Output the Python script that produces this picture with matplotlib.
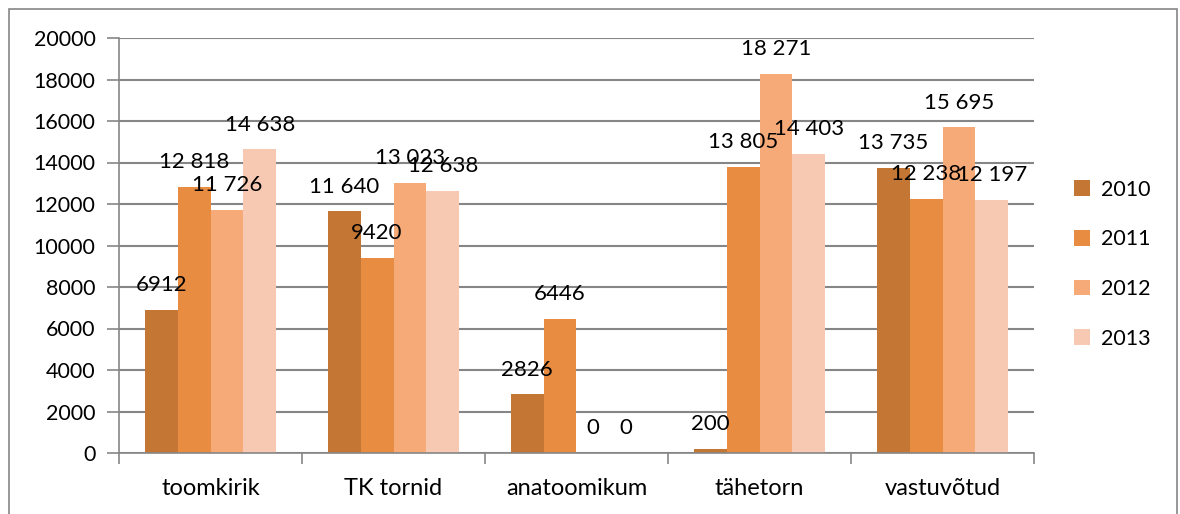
import matplotlib
matplotlib.use('Agg')
import matplotlib.pyplot as plt
from matplotlib.patches import Rectangle
import numpy as np

plt.rcParams['font.family'] = ['Lato', 'DejaVu Sans']

categories = ['toomkirik', 'TK tornid', 'anatoomikum', 'tähetorn', 'vastuvõtud']
years = ['2010', '2011', '2012', '2013']
v2010 = [6912, 11640, 2826, 200, 13735]
v2011 = [12818, 9420, 6446, 13805, 12238]
v2012 = [11726, 13023, 0, 18271, 15695]
v2013 = [14638, 12638, 0, 14403, 12197]
colors = ['#C47735', '#E88C41', '#F6AA78', '#F8C9B2']


def fmt(v):
    # thousands separated by a space from 10000 up, as in the source
    if v >= 10000:
        return '{:,}'.format(v).replace(',', ' ')
    return str(v)


fig = plt.figure(figsize=(11.8, 5.14), dpi=100)
ax = fig.add_axes([119 / 1180, 61 / 514, 915 / 1180, 415 / 514])

x = np.arange(len(categories))
w = 0.18
series = [v2010, v2011, v2012, v2013]
for i, (vals, year, col) in enumerate(zip(series, years, colors)):
    pos = x + (i - 1.5) * w
    ax.bar(pos, vals, w, color=col, label=year, zorder=2)
    for px, v in zip(pos, vals):
        ax.annotate(fmt(v), (px, v), xytext=(0, 13.5), textcoords='offset points',
                    ha='center', va='baseline', fontsize=16, zorder=3)

ax.set_xlim(-0.5, len(categories) - 0.5)
ax.set_ylim(0, 20000)
ax.set_yticks(np.arange(0, 20001, 2000))
ax.tick_params(axis='y', labelsize=15.5, length=9, width=1.2, color='#868686', pad=8)
ax.yaxis.grid(True, color='#868686', linewidth=1.5, zorder=0)

ax.set_xticks(x)
ax.set_xticklabels(categories)
ax.tick_params(axis='x', which='major', length=0, labelsize=17, pad=18)
ax.set_xticks(np.arange(-0.5, len(categories)), minor=True)
ax.tick_params(axis='x', which='minor', length=8, width=1.2, color='#868686')

for s in ['top', 'right']:
    ax.spines[s].set_visible(False)
for s in ['left', 'bottom']:
    ax.spines[s].set_color('#868686')
    ax.spines[s].set_linewidth(1.2)

leg = ax.legend(loc='center left', bbox_to_anchor=(1.022, 0.455), frameon=False,
                fontsize=15.5, handlelength=0.75, handleheight=0.75,
                labelspacing=1.38, handletextpad=0.55)

fig.patches.append(Rectangle((9 / 1180, -0.02), 1168 / 1180, 1.02 - 9 / 514,
                             transform=fig.transFigure, fill=False,
                             edgecolor='#868686', linewidth=1.2))

fig.savefig('out.png', dpi=100)
